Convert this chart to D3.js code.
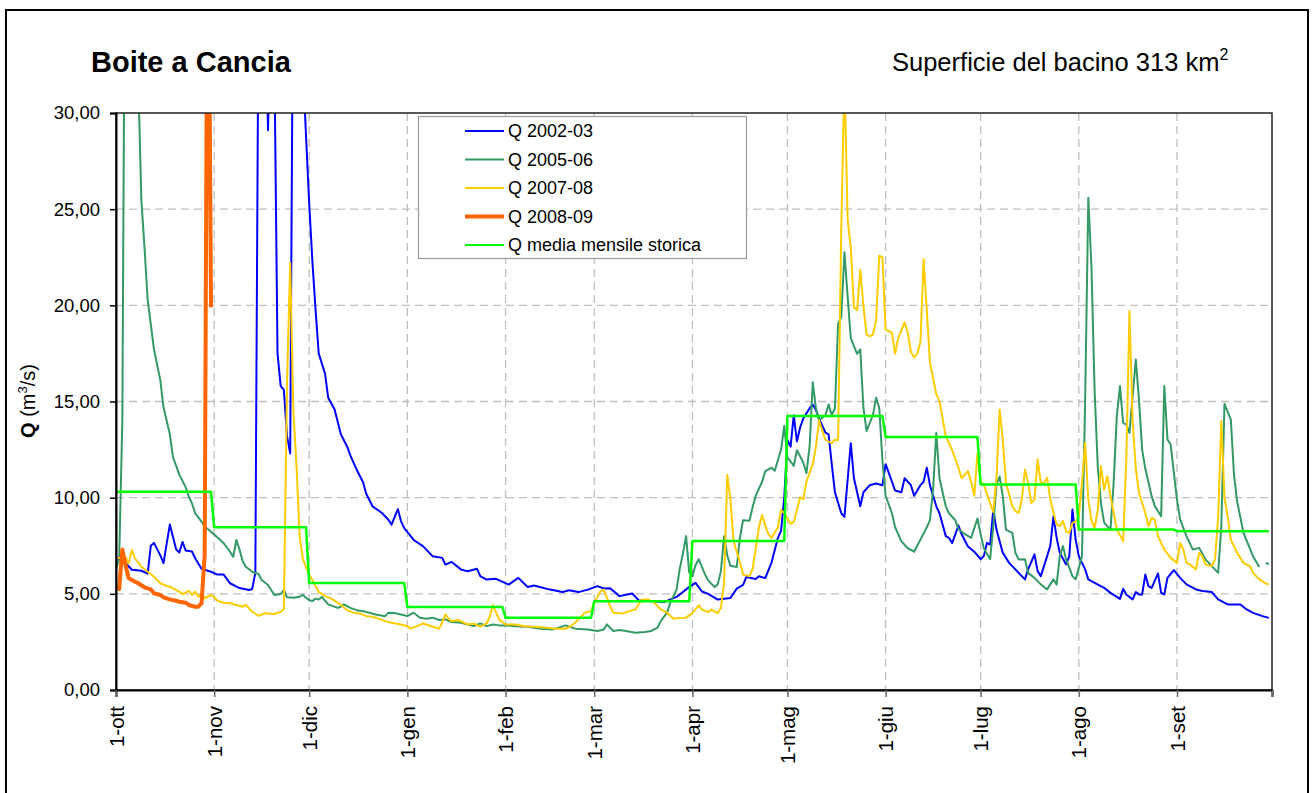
<!DOCTYPE html>
<html><head><meta charset="utf-8">
<script src="https://cdn.jsdelivr.net/npm/d3@7"></script>
<style>
body{margin:0;background:#fff}
svg{display:block}
text{font-family:Arial,"Liberation Sans",sans-serif;fill:#000}
</style>
</head><body>
<svg id="chart" width="1313" height="793"></svg>
<script>
// ---- data ----
const monthLabels = ["1-ott","1-nov","1-dic","1-gen","1-feb","1-mar","1-apr","1-mag","1-giu","1-lug","1-ago","1-set",""];
const monthStartDays = [0,31,61,92,123,151,182,212,243,273,304,335,365];
const yTicks = [0,5,10,15,20,25,30];
const seriesNames = ["Q 2002-03","Q 2005-06","Q 2007-08","Q 2008-09","Q media mensile storica"];

// [day from 1 Oct, Q m3/s]
const q0203 = [[0,6.85],[3,6.6],[5,6.25],[8,6.2],[10,6.05],[11,7.5],[12,7.65],[14,7.0],[15,6.6],[17,8.6],[19,7.3],[20,7.15],[21,7.7],[22,7.25],[24,7.2],[25,6.85],[27,6.3],[30,6.15],[32,6.0],[34,6.0],[36,5.55],[39,5.3],[42,5.2],[43,5.25],[44,6.1],[45,36],[47,38],[48,29.1],[49,36],[50,33],[51,17.5],[52,15.8],[53,15.6],[54,13.2],[55,12.3],[56,40],[57,45],[58,40],[59,32.5],[60,28.8],[61,25.3],[62,22.3],[63,19.8],[64,17.5],[66,16.45],[67,15.2],[69,14.6],[71,13.3],[73,12.65],[74,12.2],[76,11.45],[78,10.8],[79,10.2],[81,9.55],[84,9.2],[86,8.85],[87,8.6],[89,9.4],[90,8.77],[91,8.42],[94,7.8],[97,7.47],[100,6.95],[103,6.87],[104,6.52],[106,6.66],[109,6.26],[111,6.17],[114,6.3],[115,5.92],[117,5.74],[120,5.78],[124,5.48],[127,5.83],[130,5.36],[132,5.43],[137,5.22],[141,5.09],[143,5.19],[146,5.09],[149,5.22],[152,5.4],[154,5.28],[156,5.29],[159,4.88],[163,5.02],[165,4.67],[173,4.57],[177,4.84],[179,5.1],[181,5.36],[183,5.57],[185,5.12],[187,5.0],[190,4.7],[194,4.78],[196,5.27],[198,5.46],[199,5.87],[202,5.77],[203,5.91],[205,5.82],[207,6.64],[209,7.91],[210,8.28],[211,10.0],[212,13.0],[213,12.65],[214,14.29],[215,12.92],[216,13.65],[217,14.11],[219,14.65],[220,14.84],[221,14.56],[222,14.11],[223,13.74],[224,13.38],[225,13.29],[226,11.74],[227,10.28],[229,9.19],[230,9.0],[232,12.83],[233,11.01],[235,9.55],[236,10.28],[238,10.65],[240,10.74],[242,10.65],[243,11.74],[245,10.83],[246,10.37],[248,10.28],[249,11.01],[251,10.65],[252,10.1],[254,10.65],[255,10.83],[256,11.56],[257,10.65],[259,9.55],[260,9.19],[262,8.0],[263,7.91],[264,7.64],[266,8.55],[267,8.1],[269,7.46],[271,7.19],[273,6.8],[274,6.96],[275,7.65],[276,7.56],[277,9.38],[278,8.34],[280,7.13],[282,6.61],[283,6.44],[285,6.09],[287,5.75],[288,6.27],[290,7.05],[291,6.18],[292,5.92],[294,6.96],[295,7.5],[296,9.04],[297,7.91],[298,7.13],[300,6.53],[301,6.96],[302,9.38],[303,7.82],[304,6.96],[306,6.27],[307,5.75],[309,5.57],[312,5.31],[314,5.05],[317,4.74],[318,5.26],[319,4.97],[321,4.71],[322,5.09],[323,4.97],[324,4.97],[325,6.0],[326,5.4],[327,5.31],[329,6.06],[330,5.05],[331,4.97],[332,5.83],[334,6.23],[336,5.83],[338,5.49],[341,5.23],[343,5.15],[346,5.09],[348,4.71],[351,4.45],[355,4.45],[357,4.19],[359,4.01],[362,3.84],[364,3.75]];

const q0506 = [[0,6.3],[1,6.8],[2,14],[3,45],[4,50],[6,40],[7,32],[8,25.5],[9,23],[10,20.3],[11,19],[12,17.7],[14,16.1],[15,14.7],[17,13.3],[18,12.1],[20,11.2],[22,10.55],[23,10.05],[24,9.7],[25,9.19],[27,8.75],[28,8.5],[30,8.23],[32,7.94],[34,7.63],[36,7.19],[37,6.93],[38,7.8],[39,7.3],[40,6.7],[41,6.41],[43,6.15],[45,6.03],[46,5.72],[48,5.46],[50,4.94],[52,4.99],[53,5.2],[54,4.82],[56,4.8],[58,4.85],[59,4.94],[60,4.79],[61,4.68],[62,4.62],[63,4.75],[64,4.71],[65,4.84],[67,4.45],[70,4.27],[71,4.33],[72,4.45],[74,4.27],[76,4.15],[78,4.1],[80,4.02],[82,3.93],[85,3.84],[86,4.02],[88,4.0],[90,3.93],[92,3.84],[94,4.02],[96,3.76],[98,3.7],[100,3.76],[102,3.64],[104,3.67],[106,3.53],[109,3.5],[111,3.41],[113,3.32],[115,3.46],[117,3.32],[119,3.41],[121,3.36],[123,3.36],[126,3.32],[130,3.29],[134,3.19],[138,3.15],[142,3.36],[145,3.19],[149,3.15],[152,3.07],[154,3.15],[155,3.41],[157,3.07],[159,3.12],[161,3.07],[164,2.98],[167,3.01],[169,3.07],[171,3.24],[172,3.58],[174,4.02],[175,4.53],[177,5.22],[178,6.3],[179,7.1],[180,8.0],[181,6.1],[182,5.92],[183,6.5],[184,6.8],[185,6.4],[186,6.0],[187,5.7],[189,5.35],[190,5.5],[191,6.18],[192,8.0],[193,7.0],[194,6.46],[196,6.4],[197,7.91],[198,8.83],[200,8.8],[201,9.5],[202,10.1],[204,10.83],[205,11.38],[207,11.56],[208,11.4],[210,12.5],[211,13.74],[212,12.1],[214,11.65],[215,12.47],[217,11.83],[218,11.28],[219,12.65],[220,16.0],[221,14.65],[222,14.02],[224,14.29],[225,14.84],[226,14.29],[227,14.65],[228,19.03],[229,19.39],[230,22.76],[231,20.48],[232,18.3],[234,17.48],[235,17.71],[236,14.65],[237,13.47],[239,14.29],[240,15.2],[241,14.65],[242,11.92],[243,10.1],[245,9.19],[246,8.46],[248,7.73],[250,7.37],[252,7.19],[254,7.82],[256,8.46],[257,8.83],[258,10.46],[259,13.38],[260,11.01],[262,9.55],[263,9.19],[265,8.83],[266,8.37],[268,8.1],[270,7.91],[272,8.92],[273,8.1],[274,7.37],[276,6.8],[277,8.5],[278,10.7],[279,11.1],[280,10.08],[281,8.34],[283,8.17],[284,7.13],[285,6.79],[287,6.8],[288,6.09],[290,5.83],[292,5.49],[294,5.23],[296,5.75],[297,5.49],[298,6.96],[299,7.48],[300,6.79],[302,5.92],[303,5.75],[305,6.96],[306,15.0],[307,25.6],[308,22.0],[309,15.5],[310,11.6],[311,9.7],[312,8.7],[314,8.34],[315,10.77],[316,14.24],[317,15.8],[318,13.89],[319,13.8],[320,13.37],[322,17.18],[323,15.1],[324,12.5],[325,11.5],[327,10.08],[328,9.56],[330,9.04],[331,15.8],[332,13.02],[333,12.76],[335,9.9],[336,8.86],[338,8.0],[340,7.3],[342,7.39],[344,6.79],[346,6.44],[348,6.09],[349,8.5],[350,14.88],[352,14.06],[353,11.2],[354,9.8],[356,8.17],[359,6.96],[361,6.4],[362,null],[363,6.6],[364,6.55]];

const q0708 = [[0,6.85],[3,6.9],[4,6.59],[5,7.28],[6,6.85],[8,6.41],[10,6.15],[12,5.89],[14,5.55],[16,5.41],[17,5.37],[20,5.11],[21,4.99],[22,5.06],[23,5.16],[24,4.94],[25,5.11],[26,4.85],[27,5.03],[28,4.77],[30,4.94],[31,4.82],[32,4.64],[34,4.54],[36,4.51],[38,4.42],[40,4.33],[41,4.42],[43,4.07],[45,3.86],[47,3.99],[50,3.95],[52,4.07],[53,4.2],[54,16],[55,22.2],[56,14.5],[57,11.6],[58,8.0],[59,6.8],[61,6.0],[62,5.72],[64,5.1],[66,4.88],[68,4.75],[71,4.43],[73,4.15],[75,4.02],[77,3.98],[79,3.84],[81,3.81],[83,3.7],[85,3.58],[87,3.5],[90,3.41],[92,3.32],[93,3.19],[95,3.32],[97,3.46],[100,3.29],[102,3.19],[103,3.5],[104,3.93],[105,3.7],[106,3.58],[108,3.64],[111,3.41],[113,3.45],[115,3.29],[117,3.46],[118,3.8],[119,4.41],[120,4.02],[121,3.67],[123,3.41],[126,3.41],[129,3.32],[132,3.29],[136,3.24],[139,3.19],[142,3.19],[144,3.36],[146,3.67],[148,4.02],[150,4.1],[151,4.53],[153,5.14],[154,5.22],[156,4.36],[157,4.02],[160,3.98],[162,4.1],[164,4.19],[166,4.71],[168,4.71],[170,4.53],[172,4.19],[174,4.02],[176,3.7],[178,3.75],[180,3.76],[182,4.0],[184,4.4],[185,4.18],[187,4.05],[188,4.18],[190,4.0],[191,4.27],[192,5.55],[193,11.19],[194,9.92],[195,7.73],[197,6.64],[198,6.0],[200,5.91],[201,6.28],[202,7.37],[203,8.46],[204,9.1],[205,8.55],[206,8.1],[207,7.91],[209,8.46],[210,9.37],[211,9.19],[213,8.64],[214,8.73],[215,9.37],[216,10.01],[217,9.92],[218,10.83],[220,11.74],[221,12.65],[222,14.02],[223,13.47],[224,13.01],[226,12.83],[227,13.01],[228,13.0],[229,24],[230,32],[231,24.5],[232,23.0],[233,19.9],[234,19.75],[235,21.85],[236,19.94],[237,18.48],[238,18.39],[239,18.48],[240,19.21],[241,22.58],[242,22.49],[243,18.75],[245,18.57],[246,17.48],[247,18.3],[249,19.12],[250,18.57],[251,17.57],[252,17.3],[253,17.48],[254,18.11],[255,22.4],[256,19.75],[257,17.02],[259,15.38],[260,15.02],[261,14.11],[262,13.2],[264,12.47],[265,12.01],[266,11.56],[267,11.01],[269,11.38],[270,10.83],[271,10.1],[272,12.3],[273,10.8],[274,10.7],[276,9.7],[277,9.25],[278,11.0],[279,14.58],[280,13.0],[281,10.77],[283,9.56],[284,9.3],[285,9.21],[286,9.9],[287,11.46],[288,10.77],[289,9.73],[290,9.9],[291,11.98],[292,10.77],[293,10.77],[294,11.03],[295,9.9],[296,9.21],[297,8.6],[298,8.52],[299,8.78],[300,8.26],[301,8.17],[302,8.69],[303,8.75],[304,9.04],[305,10.77],[306,12.85],[307,9.9],[308,8.8],[309,8.43],[310,9.38],[311,11.64],[312,10.42],[313,11.12],[314,10.08],[315,9.21],[316,8.34],[318,7.74],[319,12.0],[320,19.7],[321,14.0],[322,11.5],[323,10.25],[325,9.21],[326,8.52],[327,8.95],[328,8.86],[329,8.0],[331,7.3],[333,6.87],[335,6.61],[336,7.65],[337,7.3],[338,6.61],[339,6.53],[341,6.27],[342,7.13],[343,6.96],[344,6.53],[346,6.44],[347,6.79],[348,9.0],[349,13.98],[350,10.0],[351,9.04],[352,7.82],[354,7.13],[356,6.61],[358,6.44],[359,6.09],[361,5.75],[363,5.54],[364,5.49]];

const q0809 = [[0,5.37],[1,5.25],[2,7.3],[3,6.5],[4,5.81],[6,5.63],[7,5.55],[9,5.34],[11,5.23],[12,5.03],[14,4.94],[15,4.82],[17,4.71],[19,4.64],[20,4.59],[22,4.54],[23,4.42],[25,4.33],[26,4.33],[27,4.5],[28,7.0],[29,45],[30,19.9]];

// historical monthly mean (Oct..Sep)
const qMediaMensile = [10.31,8.46,5.56,4.31,3.76,4.62,7.75,14.25,13.16,10.69,8.34,8.26];

// ---- drawing ----
const svg = d3.select("#chart");
const L = 116, R = 1272, T = 113, B = 690;

svg.append("rect").attr("x",6).attr("y",10).attr("width",1302).attr("height",800)
  .attr("fill","#fff").attr("stroke","#000").attr("stroke-width",2);

const x = d3.scaleLinear().domain([0,365]).range([L,R]);
const y = d3.scaleLinear().domain([0,30]).range([B,T]);

// gridlines
const grid = svg.append("g").attr("stroke","#BFBFBF").attr("stroke-width",1.3).attr("stroke-dasharray","8,5");
grid.selectAll("line.h").data(yTicks.filter(v=>v>0 && v<30)).join("line")
  .attr("x1",L).attr("x2",R).attr("y1",d=>y(d)).attr("y2",d=>y(d));
grid.selectAll("line.v").data(monthStartDays.filter(d=>d>0 && d<365)).join("line")
  .attr("y1",T).attr("y2",B).attr("x1",d=>x(d)).attr("x2",d=>x(d));

// clip
svg.append("clipPath").attr("id","plotclip").append("rect")
  .attr("x",L).attr("y",T).attr("width",R-L).attr("height",B-T);

// media mensile points: first and last day of every month
const mediaPts = [];
qMediaMensile.forEach((v,i)=>{
  mediaPts.push([monthStartDays[i], v]);
  mediaPts.push([monthStartDays[i+1]-1, v]);
});

const series = [
  {name:seriesNames[0], data:q0203, color:"#0000FF", w:2},
  {name:seriesNames[1], data:q0506, color:"#339966", w:2},
  {name:seriesNames[2], data:q0708, color:"#FFCC00", w:2},
  {name:seriesNames[3], data:q0809, color:"#FF6600", w:4},
  {name:seriesNames[4], data:mediaPts, color:"#00FF00", w:2.5}
];

const line = d3.line().defined(d=>d[1]!=null).x(d=>x(d[0])).y(d=>y(d[1]));
const plot = svg.append("g").attr("clip-path","url(#plotclip)");
series.forEach(s=>{
  plot.append("path").attr("d",line(s.data)).attr("fill","none")
    .attr("stroke",s.color).attr("stroke-width",s.w).attr("stroke-linejoin","round");
});

// plot border
svg.append("rect").attr("x",L).attr("y",T).attr("width",R-L).attr("height",B-T)
  .attr("fill","none").attr("stroke","#222").attr("stroke-width",1.5);

// y axis
const fmt = d=>d3.format(".2f")(d).replace(".",",");
const yAxis = svg.append("g").attr("transform",`translate(${L},0)`)
  .call(d3.axisLeft(y).tickValues(yTicks).tickSize(6).tickPadding(10).tickFormat(fmt));
yAxis.select(".domain").attr("stroke","#000").attr("stroke-width",2);
yAxis.selectAll(".tick line").attr("stroke","#000").attr("stroke-width",1.5);
yAxis.selectAll(".tick text").attr("font-size","18.5px").attr("font-family","Arial, 'Liberation Sans', sans-serif").attr("fill","#000");

// x axis
const xAxis = svg.append("g").attr("transform",`translate(0,${B})`)
  .call(d3.axisBottom(x).tickValues(monthStartDays).tickSize(7).tickFormat((d,i)=>monthLabels[i]));
xAxis.select(".domain").attr("stroke","#000").attr("stroke-width",2);
xAxis.selectAll(".tick line").attr("stroke","#666").attr("stroke-width",1.5);
xAxis.selectAll(".tick text")
  .attr("font-size","20.5px").attr("font-family","Arial, 'Liberation Sans', sans-serif").attr("fill","#000")
  .attr("transform","rotate(-90)").attr("text-anchor","end")
  .attr("x",-16).attr("y",0).attr("dy","0.35em");

// titles
svg.append("text").attr("x",91).attr("y",72).attr("font-size","29px").attr("font-weight","bold").text("Boite a Cancia");
const sub = svg.append("text").attr("x",892).attr("y",71).attr("font-size","25.5px");
sub.append("tspan").text("Superficie del bacino 313 km");
sub.append("tspan").attr("font-size","16px").attr("dy","-11").text("2");

// y axis title
const yt = svg.append("text").attr("transform","translate(35,401) rotate(-90)").attr("text-anchor","middle").attr("font-size","20px");
yt.append("tspan").attr("font-weight","bold").text("Q");
yt.append("tspan").text(" (m");
yt.append("tspan").attr("font-size","13px").attr("dy","-8").text("3");
yt.append("tspan").attr("dy","8").text("/s)");

// legend
const lg = svg.append("g");
lg.append("rect").attr("x",418.5).attr("y",116.5).attr("width",328).attr("height",142)
  .attr("fill","#fff").attr("stroke","#999").attr("stroke-width",1.2);
series.forEach((s,i)=>{
  const yy = 131 + i*28.5;
  lg.append("line").attr("x1",465).attr("x2",504).attr("y1",yy).attr("y2",yy)
    .attr("stroke",s.color).attr("stroke-width",s.w===4?4:2);
  lg.append("text").attr("x",508).attr("y",yy).attr("dy","0.35em").attr("font-size","18px").text(s.name);
});
</script>
</body></html>
